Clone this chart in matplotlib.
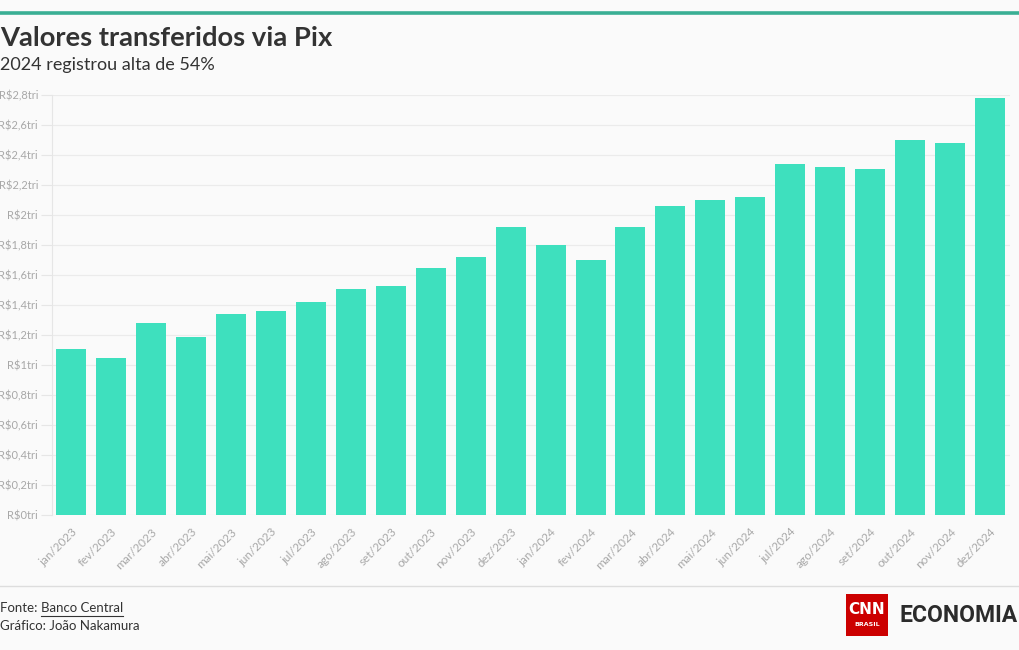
import matplotlib
matplotlib.use("Agg")
import matplotlib.pyplot as plt
from matplotlib.patches import Rectangle
from matplotlib.lines import Line2D

months = ["jan/2023", "fev/2023", "mar/2023", "abr/2023", "mai/2023", "jun/2023",
          "jul/2023", "ago/2023", "set/2023", "out/2023", "nov/2023", "dez/2023",
          "jan/2024", "fev/2024", "mar/2024", "abr/2024", "mai/2024", "jun/2024",
          "jul/2024", "ago/2024", "set/2024", "out/2024", "nov/2024", "dez/2024"]
values = [1.11, 1.05, 1.28, 1.19, 1.34, 1.36, 1.42, 1.51, 1.53, 1.65, 1.72, 1.92,
          1.80, 1.70, 1.92, 2.06, 2.10, 2.12, 2.34, 2.32, 2.31, 2.50, 2.48, 2.78]
yticks = [0, 0.2, 0.4, 0.6, 0.8, 1.0, 1.2, 1.4, 1.6, 1.8, 2.0, 2.2, 2.4, 2.6, 2.8]
ytick_labels = ["R$0tri", "R$0,2tri", "R$0,4tri", "R$0,6tri", "R$0,8tri", "R$1tri",
                "R$1,2tri", "R$1,4tri", "R$1,6tri", "R$1,8tri", "R$2tri", "R$2,2tri",
                "R$2,4tri", "R$2,6tri", "R$2,8tri"]

plt.rcParams['font.family'] = ['Lato', 'DejaVu Sans']
W, H = 1020, 650
bg = "#fafafa"
fig = plt.figure(figsize=(W / 100, H / 100), dpi=100, facecolor=bg)

def fx(px):
    return px / W

def fy(py):
    return 1 - py / H

ax = fig.add_axes([fx(52), fy(515), fx(1010) - fx(52), fy(95) - fy(515)], facecolor=bg)
x = list(range(len(months)))
ax.bar(x, values, width=0.75, color="#3ee0be", zorder=3)
ax.set_xlim(-0.48, len(months) - 0.5)
ax.set_ylim(0, 2.8)
ax.set_yticks(yticks)
ax.set_yticklabels(ytick_labels)
ax.set_xticks(x)
ax.set_xticklabels(months, rotation=45, ha="right", rotation_mode="anchor")
ax.grid(axis="y", color="#ebebeb", linewidth=0.9, zorder=0)
for s in ["top", "right", "bottom"]:
    ax.spines[s].set_visible(False)
ax.spines["left"].set_color("#e6e6e6")
ax.tick_params(axis="y", length=8, color="#e6e6e6", labelsize=8, labelcolor="#a8a8a8", pad=2)
ax.tick_params(axis="x", length=0, labelsize=8.5, labelcolor="#a8a8a8", pad=8)

# top accent line
fig.add_artist(Line2D([0, 1], [fy(13), fy(13)], color="#3aaf94", linewidth=2.6))
# separator line
fig.add_artist(Line2D([0, 1], [fy(586), fy(586)], color="#dddddd", linewidth=1))

fig.text(0, fy(38), "Valores transferidos via Pix", fontsize=19.7, fontweight="bold",
         color="#333333", va="center", ha="left")
fig.text(0, fy(65), "2024 registrou alta de 54%", fontsize=13, color="#333333",
         va="center", ha="left")

# footer
t1 = fig.text(0, fy(608), "Fonte: ", fontsize=9.5, color="#333333", va="center", ha="left")
r = fig.canvas.get_renderer()
bb = t1.get_window_extent(renderer=r)
t2 = fig.text(bb.x1 / W, fy(608), "Banco Central", fontsize=9.5, color="#333333",
              va="center", ha="left")
bb2 = t2.get_window_extent(renderer=r)
fig.add_artist(Line2D([bb2.x0 / W, bb2.x1 / W], [fy(616), fy(616)], color="#333333", linewidth=0.8))
fig.text(0, fy(626), "Gráfico: João Nakamura", fontsize=9.5, color="#333333",
         va="center", ha="left")

# logo
fig.add_artist(Rectangle((fx(846), fy(636)), fx(888) - fx(846), fy(594) - fy(636),
                         facecolor="#cc0000", edgecolor="none"))
fig.text(fx(867), fy(610), "CNN", fontsize=11, fontweight="bold", color="white",
         ha="center", va="center", family=["DejaVu Sans"])
fig.text(fx(867), fy(625), "BRASIL", fontsize=4.5, fontweight="bold", color="white",
         ha="center", va="center", family=["DejaVu Sans"])
fig.text(fx(1018), fy(616), "ECONOMIA", fontsize=16.5, fontweight="bold", color="#2b2b2b",
         ha="right", va="center", family=["Roboto", "DejaVu Sans"])

fig.savefig("out.png", dpi=100, facecolor=bg)
